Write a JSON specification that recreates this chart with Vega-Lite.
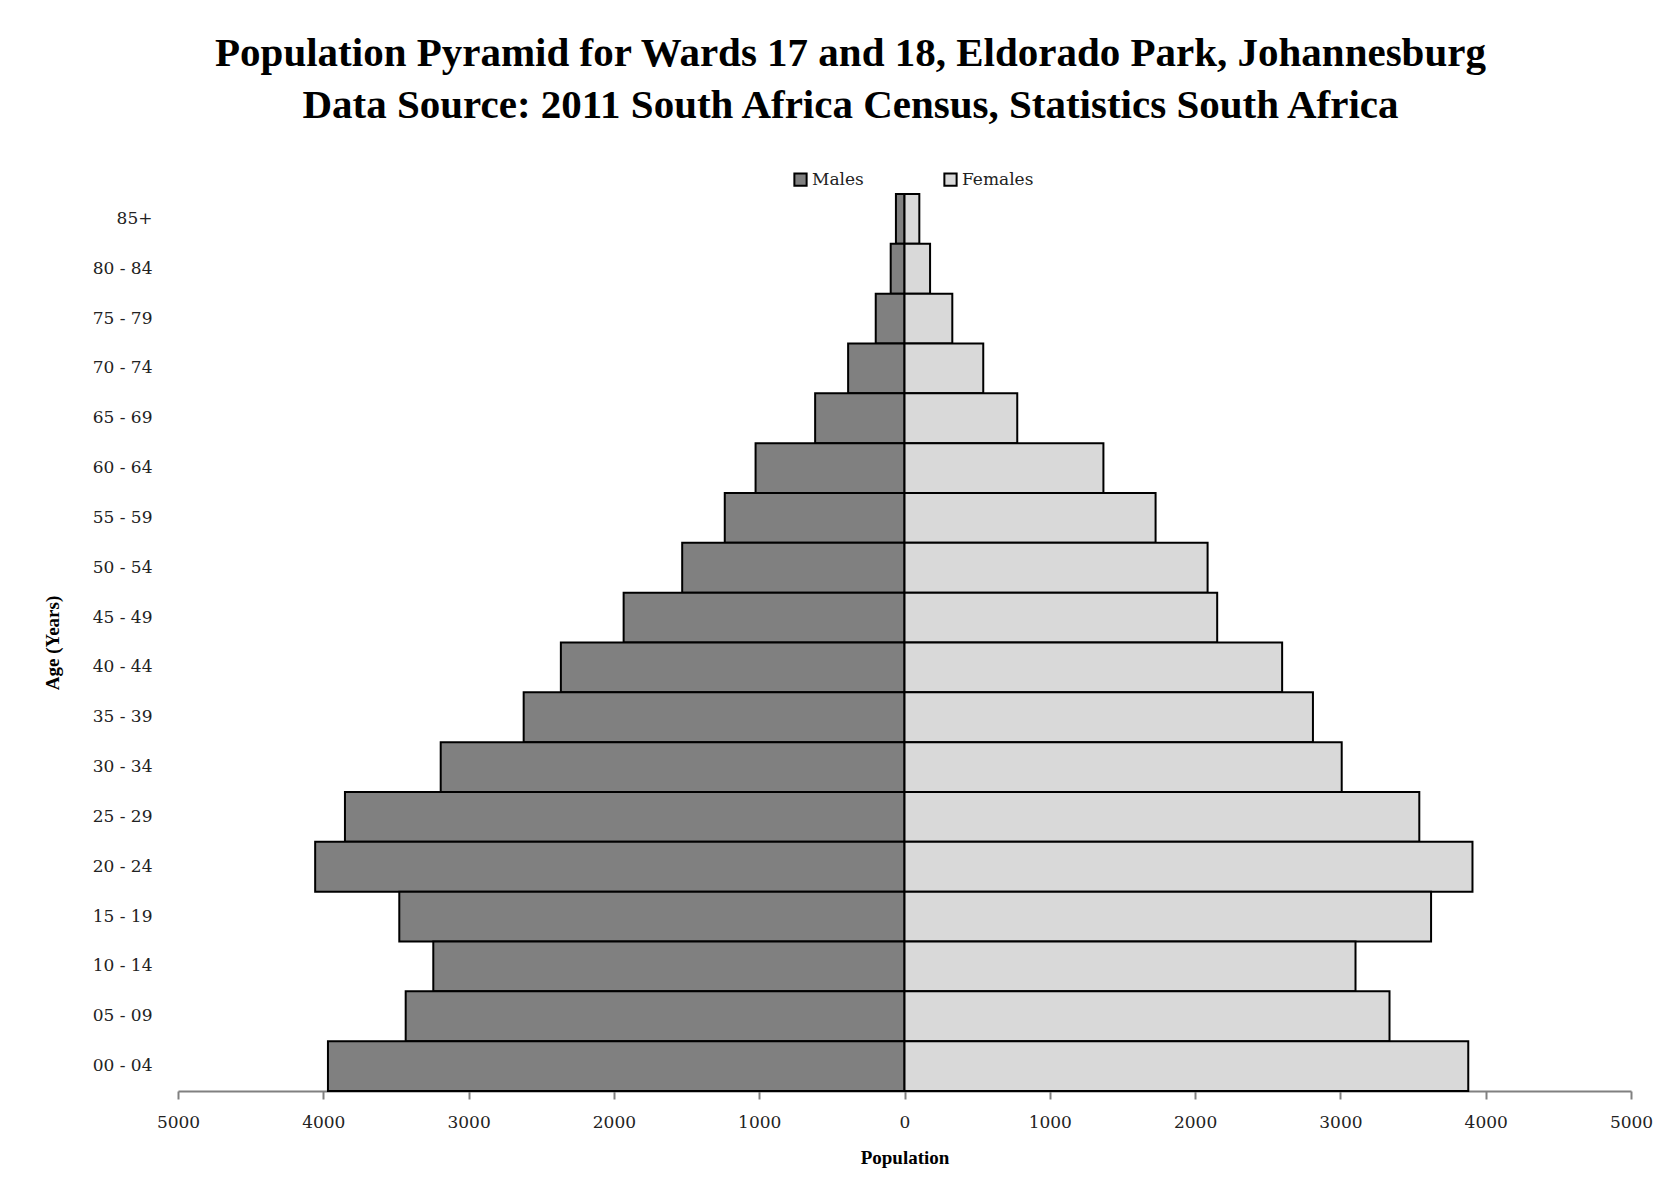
{
  "$schema": "https://vega.github.io/schema/vega-lite/v6.json",
  "width": 1453,
  "height": 897,
  "autosize": {"type": "none"},
  "padding": {"left": 178, "top": 194, "right": 37, "bottom": 111},
  "background": "white",
  "config": {"view": {"stroke": null}},
  "title": {
    "text": ["Population Pyramid for Wards 17 and 18, Eldorado Park, Johannesburg", "Data Source: 2011 South Africa Census, Statistics South Africa"],
    "font": "Liberation Serif",
    "fontSize": 41,
    "fontWeight": "bold",
    "color": "black",
    "anchor": "middle",
    "dx": -54,
    "offset": 44,
    "lineHeight": 52
  },
  "data": {
    "values": [
      {"age": "85+", "sex": "Males", "population": 59},
      {"age": "80 - 84", "sex": "Males", "population": 95},
      {"age": "75 - 79", "sex": "Males", "population": 198},
      {"age": "70 - 74", "sex": "Males", "population": 388},
      {"age": "65 - 69", "sex": "Males", "population": 615},
      {"age": "60 - 64", "sex": "Males", "population": 1025},
      {"age": "55 - 59", "sex": "Males", "population": 1237},
      {"age": "50 - 54", "sex": "Males", "population": 1530},
      {"age": "45 - 49", "sex": "Males", "population": 1933},
      {"age": "40 - 44", "sex": "Males", "population": 2365},
      {"age": "35 - 39", "sex": "Males", "population": 2621},
      {"age": "30 - 34", "sex": "Males", "population": 3192},
      {"age": "25 - 29", "sex": "Males", "population": 3851},
      {"age": "20 - 24", "sex": "Males", "population": 4056},
      {"age": "15 - 19", "sex": "Males", "population": 3477},
      {"age": "10 - 14", "sex": "Males", "population": 3243},
      {"age": "05 - 09", "sex": "Males", "population": 3433},
      {"age": "00 - 04", "sex": "Males", "population": 3968},
      {"age": "85+", "sex": "Females", "population": 102},
      {"age": "80 - 84", "sex": "Females", "population": 176},
      {"age": "75 - 79", "sex": "Females", "population": 329},
      {"age": "70 - 74", "sex": "Females", "population": 542},
      {"age": "65 - 69", "sex": "Females", "population": 776},
      {"age": "60 - 64", "sex": "Females", "population": 1369},
      {"age": "55 - 59", "sex": "Females", "population": 1728},
      {"age": "50 - 54", "sex": "Females", "population": 2086},
      {"age": "45 - 49", "sex": "Females", "population": 2152},
      {"age": "40 - 44", "sex": "Females", "population": 2599},
      {"age": "35 - 39", "sex": "Females", "population": 2811},
      {"age": "30 - 34", "sex": "Females", "population": 3009},
      {"age": "25 - 29", "sex": "Females", "population": 3543},
      {"age": "20 - 24", "sex": "Females", "population": 3909},
      {"age": "15 - 19", "sex": "Females", "population": 3624},
      {"age": "10 - 14", "sex": "Females", "population": 3104},
      {"age": "05 - 09", "sex": "Females", "population": 3338},
      {"age": "00 - 04", "sex": "Females", "population": 3880}
    ]
  },
  "transform": [
    {"calculate": "datum.sex === 'Males' ? -datum.population : datum.population", "as": "signed"}
  ],
  "mark": {"type": "bar", "stroke": "black", "strokeWidth": 2},
  "encoding": {
    "y": {
      "field": "age",
      "type": "ordinal",
      "sort": ["85+", "80 - 84", "75 - 79", "70 - 74", "65 - 69", "60 - 64", "55 - 59", "50 - 54", "45 - 49", "40 - 44", "35 - 39", "30 - 34", "25 - 29", "20 - 24", "15 - 19", "10 - 14", "05 - 09", "00 - 04"],
      "scale": {"paddingInner": 0, "paddingOuter": 0},
      "axis": {
        "title": "Age (Years)",
        "domain": false,
        "ticks": false,
        "labelFont": "DejaVu Serif",
        "labelFontSize": 17,
        "labelColor": "#222",
        "labelPadding": 26,
        "titleFont": "Liberation Serif",
        "titleFontSize": 19,
        "titleFontWeight": "bold",
        "titleColor": "black",
        "titlePadding": 30
      }
    },
    "x": {
      "field": "signed",
      "type": "quantitative",
      "scale": {"domain": [-5000, 5000]},
      "axis": {
        "values": [-5000, -4000, -3000, -2000, -1000, 0, 1000, 2000, 3000, 4000, 5000],
        "labelExpr": "abs(datum.value)",
        "labelFlush": false,
        "grid": false,
        "domainColor": "#808080",
        "domainWidth": 2,
        "tickColor": "#808080",
        "tickWidth": 2,
        "tickSize": 8,
        "labelFont": "DejaVu Serif",
        "labelFontSize": 17,
        "labelColor": "#222",
        "labelPadding": 15,
        "title": "Population",
        "titleFont": "Liberation Serif",
        "titleFontSize": 19,
        "titleFontWeight": "bold",
        "titleColor": "black",
        "titlePadding": 18
      }
    },
    "color": {
      "field": "sex",
      "type": "nominal",
      "scale": {"domain": ["Males", "Females"], "range": ["#808080", "#d9d9d9"]},
      "legend": {
        "title": null,
        "orient": "none",
        "legendX": 614,
        "legendY": -23,
        "direction": "horizontal",
        "symbolType": "square",
        "symbolSize": 150,
        "symbolStrokeColor": "black",
        "symbolStrokeWidth": 2,
        "labelFont": "DejaVu Serif",
        "labelFontSize": 17,
        "labelColor": "#222",
        "labelOffset": 3,
        "columnPadding": 76
      }
    }
  }
}
